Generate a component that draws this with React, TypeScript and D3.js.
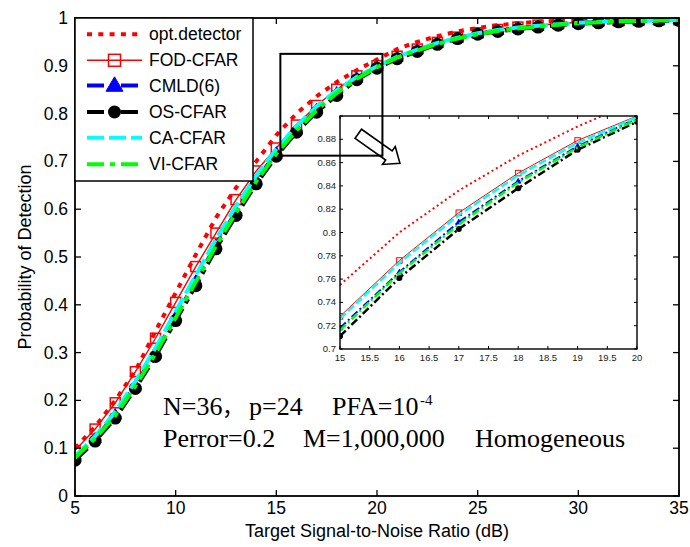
import React from 'react';
import * as d3 from 'd3';

// ---------- data ----------
const snrDb = [5, 6, 7, 8, 9, 10, 11, 12, 13, 14, 15, 16, 17, 18, 19, 20, 21, 22, 23, 24, 25, 26, 27, 28, 29, 30, 31, 32, 33, 34, 35];

const optDetector = [0.100, 0.145, 0.200, 0.262, 0.345, 0.425, 0.505, 0.582, 0.645, 0.700, 0.755, 0.800, 0.836, 0.866, 0.891, 0.913, 0.935, 0.950, 0.962, 0.972, 0.979, 0.985, 0.989, 0.992, 0.994, 0.996, 0.997, 0.998, 0.998, 0.999, 0.999];
const fodCfar = [0.095, 0.140, 0.195, 0.260, 0.330, 0.405, 0.480, 0.550, 0.620, 0.680, 0.728, 0.776, 0.817, 0.851, 0.879, 0.900, 0.920, 0.935, 0.949, 0.960, 0.969, 0.976, 0.981, 0.985, 0.988, 0.991, 0.993, 0.994, 0.995, 0.996, 0.996];
const cmld6 = [0.080, 0.120, 0.170, 0.232, 0.300, 0.375, 0.450, 0.525, 0.595, 0.660, 0.718, 0.766, 0.809, 0.844, 0.874, 0.898, 0.918, 0.933, 0.947, 0.958, 0.967, 0.974, 0.979, 0.983, 0.987, 0.990, 0.992, 0.993, 0.994, 0.995, 0.996];
const osCfar = [0.075, 0.115, 0.163, 0.225, 0.292, 0.367, 0.440, 0.517, 0.587, 0.653, 0.711, 0.761, 0.803, 0.838, 0.871, 0.895, 0.915, 0.930, 0.945, 0.957, 0.966, 0.972, 0.977, 0.981, 0.985, 0.988, 0.990, 0.992, 0.993, 0.994, 0.995];
const caCfar = [0.083, 0.125, 0.176, 0.240, 0.310, 0.386, 0.462, 0.537, 0.607, 0.670, 0.726, 0.774, 0.815, 0.849, 0.877, 0.899, 0.919, 0.934, 0.948, 0.959, 0.968, 0.975, 0.980, 0.984, 0.987, 0.990, 0.992, 0.993, 0.994, 0.995, 0.996];
const viCfar = [0.080, 0.120, 0.168, 0.230, 0.298, 0.373, 0.448, 0.523, 0.593, 0.658, 0.716, 0.765, 0.807, 0.843, 0.873, 0.897, 0.917, 0.932, 0.946, 0.957, 0.966, 0.973, 0.978, 0.982, 0.986, 0.989, 0.991, 0.993, 0.994, 0.995, 0.996];

const seriesNames = ['opt.detector', 'FOD-CFAR', 'CMLD(6)', 'OS-CFAR', 'CA-CFAR', 'VI-CFAR'];
const seriesValues = [optDetector, fodCfar, cmld6, osCfar, caCfar, viCfar];

const xTicks = [5, 10, 15, 20, 25, 30, 35];
const yTicks = [0, 0.1, 0.2, 0.3, 0.4, 0.5, 0.6, 0.7, 0.8, 0.9, 1];
const insetXTicks = [15, 15.5, 16, 16.5, 17, 17.5, 18, 18.5, 19, 19.5, 20];
const insetYTicks = [0.7, 0.72, 0.74, 0.76, 0.78, 0.8, 0.82, 0.84, 0.86, 0.88, 0.9];
const insetYLabelled = [0.7, 0.72, 0.74, 0.76, 0.78, 0.8, 0.82, 0.84, 0.86, 0.88];
const zoomBox = { x0: 15.2, x1: 20.27, y0: 0.712, y1: 0.925 };

// ---------- styles ----------
type Mk = 'none' | 'square' | 'triangle' | 'circle';
const styles: { color: string; w: number; dash: string; wi: number; dashi: string; marker: Mk }[] = [
  { color: '#ff0000', w: 4, dash: '5 6.3', wi: 2, dashi: '2 3', marker: 'none' },
  { color: '#ff0000', w: 1.4, dash: '', wi: 1, dashi: '', marker: 'square' },
  { color: '#0000ff', w: 4, dash: '17 6 5 6', wi: 2, dashi: '8 3 2 3', marker: 'triangle' },
  { color: '#000000', w: 4, dash: '17 6 5 6', wi: 2.5, dashi: '8 3 2 3', marker: 'circle' },
  { color: '#00ffff', w: 4, dash: '17 5', wi: 2.5, dashi: '8 3', marker: 'none' },
  { color: '#00ff00', w: 4, dash: '17 6 5 6', wi: 2.5, dashi: '8 3 2 3', marker: 'none' },
];

const SANS = 'Liberation Sans, Arial, sans-serif';
const SERIF = 'Liberation Serif, Times New Roman, serif';

// main axes
const L = 75, R = 679, T = 18, B = 496;
const x = d3.scaleLinear().domain([5, 35]).range([L, R]);
const y = d3.scaleLinear().domain([0, 1]).range([B, T]);
// inset axes
const IL = 340, IR = 637, IT = 116, IB = 349;
const xi = d3.scaleLinear().domain([15, 20]).range([IL, IR]);
const yi = d3.scaleLinear().domain([0.7, 0.9]).range([IB, IT]);

function marker(type: Mk, cx: number, cy: number, s: number, color: string, sw: number, key: string) {
  if (type === 'square') {
    return <rect key={key} x={cx - s / 2} y={cy - s / 2} width={s} height={s} fill="none" stroke={color} strokeWidth={sw} />;
  }
  if (type === 'triangle') {
    const h = s * 0.85;
    return <polygon key={key} points={`${cx},${cy - h * 0.6} ${cx - s / 2},${cy + h * 0.4} ${cx + s / 2},${cy + h * 0.4}`} fill={color} stroke={color} strokeWidth={1} />;
  }
  if (type === 'circle') {
    return <circle key={key} cx={cx} cy={cy} r={s / 2} fill={color} />;
  }
  return null;
}

const fmt = (v: number) => String(+v.toFixed(2));

export default function App() {
  const mainLine = d3.line<number>().x((_, i) => x(snrDb[i])).y((d) => y(d));
  const insetIdx = snrDb.map((s, i) => (s >= 15 && s <= 20 ? i : -1)).filter((i) => i >= 0);

  const arrowLen = 51, shaftHalf = 5.6, headHalf = 11, headLen = 13.5;
  const arrowPts = [
    [0, -shaftHalf], [arrowLen - headLen, -shaftHalf], [arrowLen - headLen, -headHalf],
    [arrowLen, 0], [arrowLen - headLen, headHalf], [arrowLen - headLen, shaftHalf], [0, shaftHalf],
  ].map((p) => p.join(',')).join(' ');

  const legendRows = [34.3, 60.3, 85.5, 112, 137.7, 164.3];

  return (
    <svg width={690} height={547} style={{ position: 'absolute', left: 0, top: 0, background: '#fff' }}>
      <defs>
        <clipPath id="mainClip"><rect x={L} y={T} width={R - L} height={B - T} /></clipPath>
        <clipPath id="insetClip"><rect x={IL} y={IT} width={IR - IL} height={IB - IT} /></clipPath>
      </defs>
      <rect x={0} y={0} width={690} height={547} fill="#fff" />

      {/* main curves */}
      <g clipPath="url(#mainClip)">
        {seriesValues.map((vals, si) => {
          const st = styles[si];
          return (
            <g key={si}>
              <path d={mainLine(vals) || ''} fill="none" stroke={st.color} strokeWidth={st.w}
                strokeDasharray={st.dash || undefined} strokeLinejoin="round" />
              {vals.map((v, i) => marker(st.marker, x(snrDb[i]), y(v), st.marker === 'circle' ? 13 : st.marker === 'triangle' ? 12 : 10, st.color, 1.5, `m${si}-${i}`))}
            </g>
          );
        })}
      </g>

      {/* main axes frame & ticks */}
      <rect x={L} y={T} width={R - L} height={B - T} fill="none" stroke="#000" strokeWidth={1.8} />
      {xTicks.map((t) => (
        <g key={`xt${t}`}>
          <line x1={x(t)} x2={x(t)} y1={B} y2={B - 6} stroke="#000" strokeWidth={1.3} />
          <line x1={x(t)} x2={x(t)} y1={T} y2={T + 6} stroke="#000" strokeWidth={1.3} />
          <text x={x(t)} y={514} textAnchor="middle" fontFamily={SANS} fontSize={17.5}>{t}</text>
        </g>
      ))}
      {yTicks.map((t) => (
        <g key={`yt${t}`}>
          <line x1={L} x2={L + 6} y1={y(t)} y2={y(t)} stroke="#000" strokeWidth={1.3} />
          <line x1={R} x2={R - 6} y1={y(t)} y2={y(t)} stroke="#000" strokeWidth={1.3} />
          <text x={68} y={y(t) + 6} textAnchor="end" fontFamily={SANS} fontSize={17.5}>{fmt(t)}</text>
        </g>
      ))}
      <text x={(L + R) / 2} y={537} textAnchor="middle" fontFamily={SANS} fontSize={18}>Target Signal-to-Noise Ratio (dB)</text>
      <text transform={`translate(31,${(T + B) / 2}) rotate(-90)`} textAnchor="middle" fontFamily={SANS} fontSize={18}>Probability of Detection</text>

      {/* annotations */}
      <text x={163} y={415} fontFamily={SERIF} fontSize={26}>N=36</text>
      <text x={222} y={415} fontFamily="Noto Sans CJK SC, sans-serif" fontSize={22}>，</text>
      <text x={249} y={415} fontFamily={SERIF} fontSize={26}>p=24</text>
      <text x={332} y={415} fontFamily={SERIF} fontSize={26}>PFA=10</text>
      <text x={420} y={405} fontFamily={SERIF} fontSize={15}>-4</text>
      <text x={163} y={447} fontFamily={SERIF} fontSize={26}>Perror=0.2</text>
      <text x={303} y={447} fontFamily={SERIF} fontSize={26}>M=1,000,000</text>
      <text x={475} y={447} fontFamily={SERIF} fontSize={26}>Homogeneous</text>

      {/* inset */}
      <rect x={IL} y={IT} width={IR - IL} height={IB - IT} fill="#fff" />
      <g clipPath="url(#insetClip)">
        {seriesValues.map((vals, si) => {
          const st = styles[si];
          const pts = insetIdx.map((i) => [xi(snrDb[i]), yi(vals[i])] as [number, number]);
          const p = d3.line()(pts) || '';
          return (
            <g key={`i${si}`}>
              <path d={p} fill="none" stroke={st.color} strokeWidth={st.wi} strokeDasharray={st.dashi || undefined} />
              {insetIdx.map((i) => marker(st.marker, xi(snrDb[i]), yi(vals[i]), st.marker === 'circle' ? 6 : 5.5, st.color, 1, `im${si}-${i}`))}
            </g>
          );
        })}
      </g>
      <rect x={IL} y={IT} width={IR - IL} height={IB - IT} fill="none" stroke="#000" strokeWidth={1.4} />
      {insetXTicks.map((t) => (
        <g key={`ixt${t}`}>
          <line x1={xi(t)} x2={xi(t)} y1={IB} y2={IB - 3} stroke="#000" strokeWidth={1} />
          <line x1={xi(t)} x2={xi(t)} y1={IT} y2={IT + 3} stroke="#000" strokeWidth={1} />
          <text x={xi(t)} y={361} textAnchor="middle" fontFamily={SANS} fontSize={9.5} fill="#222">{fmt(t)}</text>
        </g>
      ))}
      {insetYTicks.map((t) => (
        <g key={`iyt${t}`}>
          <line x1={IL} x2={IL + 3} y1={yi(t)} y2={yi(t)} stroke="#000" strokeWidth={1} />
          <line x1={IR} x2={IR - 3} y1={yi(t)} y2={yi(t)} stroke="#000" strokeWidth={1} />
        </g>
      ))}
      {insetYLabelled.map((t) => (
        <text key={`iyl${t}`} x={336} y={yi(t) + 3} textAnchor="end" fontFamily={SANS} fontSize={9.5} fill="#222">{fmt(t)}</text>
      ))}

      {/* zoom rectangle and arrow */}
      <rect x={x(zoomBox.x0)} y={y(zoomBox.y1)} width={x(zoomBox.x1) - x(zoomBox.x0)} height={y(zoomBox.y0) - y(zoomBox.y1)}
        fill="none" stroke="#000" strokeWidth={2} />
      <polygon points={arrowPts} transform="translate(358.3,133.8) rotate(35.3)" fill="none" stroke="#000" strokeWidth={1.6} strokeLinejoin="miter" />

      {/* legend */}
      <rect x={L} y={T} width={178} height={163} fill="#fff" stroke="#000" strokeWidth={1.5} />
      {seriesNames.map((name, si) => {
        const st = styles[si];
        const ly = legendRows[si];
        return (
          <g key={`lg${si}`}>
            <line x1={87} x2={142} y1={ly} y2={ly} stroke={st.color} strokeWidth={st.w} strokeDasharray={st.dash || undefined} />
            {marker(st.marker, 114.5, ly, st.marker === 'triangle' ? 17 : st.marker === 'circle' ? 13 : 12, st.color, 1.5, `lm${si}`)}
            <text x={149} y={ly + 6} fontFamily={SANS} fontSize={17.5}>{name}</text>
          </g>
        );
      })}
    </svg>
  );
}
